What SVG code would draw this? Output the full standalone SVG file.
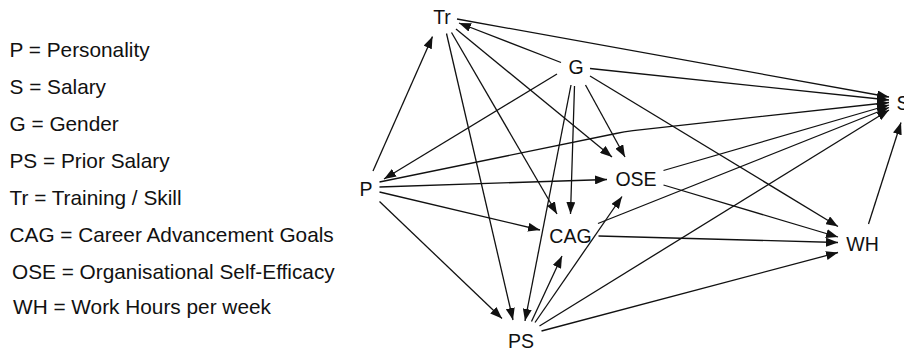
<svg xmlns="http://www.w3.org/2000/svg" width="904" height="354" viewBox="0 0 904 354">
<style>
.lg{font-family:"Liberation Sans",Arial,sans-serif;font-size:20.8px;fill:#111}
.nd{font-family:"Liberation Sans",Arial,sans-serif;font-size:19.5px;fill:#111;text-anchor:middle}
.e{stroke:#111;stroke-width:1.3;fill:none;marker-end:url(#ah)}
</style>
<defs>
<marker id="ah" markerUnits="userSpaceOnUse" markerWidth="12" markerHeight="9" refX="12" refY="4.5" orient="auto">
<path d="M0,0 L12,4.5 L0,9 z" fill="#111"/>
</marker>
</defs>
<rect width="904" height="354" fill="#fff"/>
<g id="legend">
<text class="lg" x="9.5" y="57">P = Personality</text>
<text class="lg" x="9.5" y="94">S = Salary</text>
<text class="lg" x="9.5" y="131">G = Gender</text>
<text class="lg" x="9.5" y="168">PS = Prior Salary</text>
<text class="lg" x="9.5" y="205">Tr = Training / Skill</text>
<text class="lg" x="9.5" y="241.5">CAG = Career Advancement Goals</text>
<text class="lg" x="12" y="278.5">OSE = Organisational Self-Efficacy</text>
<text class="lg" x="13" y="314">WH = Work Hours per week</text>
</g>
<g id="connectors">
<line class="e" x1="373" y1="171" x2="432.5" y2="36.5"/>
<line class="e" x1="557" y1="74" x2="384" y2="179"/>
<line class="e" x1="561" y1="62.5" x2="459" y2="23"/>
<line class="e" x1="457" y1="19" x2="889" y2="97"/>
<line class="e" x1="590" y1="68.5" x2="889" y2="100"/>
<line class="e" x1="590" y1="76" x2="838" y2="226.5"/>
<line class="e" x1="585.5" y1="85" x2="625" y2="157"/>
<line class="e" x1="574.5" y1="86" x2="570.5" y2="214"/>
<line class="e" x1="571" y1="85" x2="525" y2="321"/>
<line class="e" x1="446.5" y1="33.5" x2="513" y2="320"/>
<line class="e" x1="451.5" y1="32.5" x2="557" y2="214"/>
<line class="e" x1="456" y1="29" x2="612" y2="157"/>
<path class="e" d="M379.5,182 L616,133.5 Q624,131.8 633,130.6 L889,102.5"/>
<line class="e" x1="379.5" y1="187" x2="607" y2="179.5"/>
<line class="e" x1="379.5" y1="192" x2="540" y2="230"/>
<line class="e" x1="379.5" y1="201.5" x2="502" y2="318.5"/>
<line class="e" x1="531.5" y1="321.5" x2="562" y2="256"/>
<line class="e" x1="535" y1="322.5" x2="622" y2="196.5"/>
<line class="e" x1="539.5" y1="326" x2="889" y2="110"/>
<line class="e" x1="541.5" y1="331" x2="838" y2="252.5"/>
<line class="e" x1="598.5" y1="236" x2="838" y2="242.5"/>
<line class="e" x1="598" y1="223.5" x2="889" y2="107.5"/>
<line class="e" x1="663.5" y1="185" x2="838" y2="237"/>
<line class="e" x1="663.5" y1="170.5" x2="889" y2="105"/>
<line class="e" x1="868.5" y1="224" x2="901" y2="122.5"/>
</g>
<g id="node-Tr"><text class="nd" x="442" y="24">Tr</text></g>
<g id="node-G"><text class="nd" x="576" y="73.5">G</text></g>
<g id="node-P"><text class="nd" x="366" y="196">P</text></g>
<g id="node-OSE"><text class="nd" x="636" y="186">OSE</text></g>
<g id="node-CAG"><text class="nd" x="570.5" y="243">CAG</text></g>
<g id="node-PS"><text class="nd" x="521" y="348">PS</text></g>
<g id="node-WH"><text class="nd" x="862.5" y="251">WH</text></g>
<g id="node-S"><text class="nd" x="903" y="110">S</text></g>
</svg>
